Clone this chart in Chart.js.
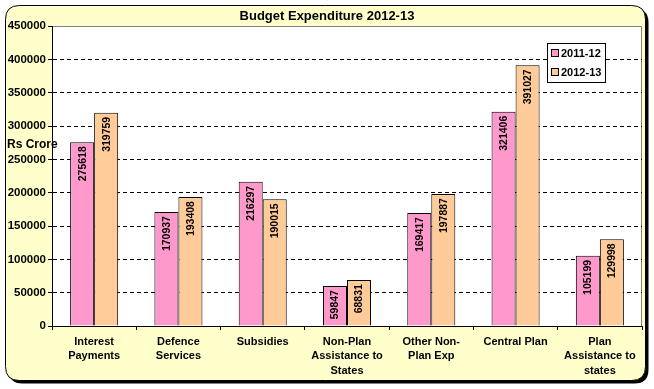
<!DOCTYPE html>
<html>
<head>
<meta charset="utf-8">
<script src="https://cdn.jsdelivr.net/npm/chart.js@4"></script>
<style>
    body { margin: 0; background: #ffffff; }
    #wrap { width: 654px; height: 389px; }
</style>
</head>
<body>
<div id="wrap"><canvas id="grafico" width="654" height="389"></canvas></div>
<script>
// chart data
var categorias = [
    ["Interest", "Payments"],
    ["Defence", "Services"],
    ["Subsidies"],
    ["Non-Plan", "Assistance to", "States"],
    ["Other Non-", "Plan Exp"],
    ["Central Plan"],
    ["Plan", "Assistance to", "states"]
];
var valores2011 = [275618, 170937, 216297, 59847, 169417, 321406, 105199];
var valores2012 = [319759, 193408, 190015, 68831, 197887, 391027, 129998];
var nomesSeries = ["2011-12", "2012-13"];
var titulo = "Budget Expenditure 2012-13";
var tituloEixoY = "Rs Crore";

var fonte = '"Liberation Sans", Arial, sans-serif';

// background box, title, axis label
var fundoPlugin = {
    id: 'fundo',
    beforeDraw: function(chart) {
        var ctx = chart.ctx;
        function caixa(x, y, w, h, r) {
            ctx.beginPath();
            ctx.moveTo(x + r, y);
            ctx.lineTo(x + w - r, y);
            ctx.quadraticCurveTo(x + w, y, x + w, y + r);
            ctx.lineTo(x + w, y + h - r);
            ctx.quadraticCurveTo(x + w, y + h, x + w - r, y + h);
            ctx.lineTo(x + r, y + h);
            ctx.quadraticCurveTo(x, y + h, x, y + h - r);
            ctx.lineTo(x, y + r);
            ctx.quadraticCurveTo(x, y, x + r, y);
            ctx.closePath();
        }
        ctx.save();
        ctx.fillStyle = '#000000';
        caixa(8.5, 8.5, 640, 375, 14);
        ctx.fill();
        ctx.fillStyle = '#FFFFCC';
        ctx.strokeStyle = '#000000';
        ctx.lineWidth = 1;
        caixa(5.5, 5.5, 640, 375, 14);
        ctx.fill();
        ctx.stroke();

        var a = chart.chartArea;
        ctx.fillStyle = '#ffffff';
        ctx.fillRect(a.left, a.top, a.right - a.left, a.bottom - a.top);
        ctx.strokeStyle = '#808080';
        ctx.beginPath();
        ctx.moveTo(a.left, a.top + 0.5);
        ctx.lineTo(a.right - 0.5, a.top + 0.5);
        ctx.lineTo(a.right - 0.5, a.bottom);
        ctx.stroke();

        ctx.fillStyle = '#000000';
        ctx.font = 'bold 13px ' + fonte;
        ctx.textAlign = 'center';
        ctx.textBaseline = 'middle';
        ctx.fillText(titulo, 327, 16);
        ctx.restore();
    },
    afterDraw: function(chart) {
        var ctx = chart.ctx;
        ctx.save();
        ctx.fillStyle = '#000000';
        ctx.font = 'bold 12px ' + fonte;
        ctx.textAlign = 'left';
        ctx.textBaseline = 'middle';
        ctx.fillText(tituloEixoY, 7, 145);

        // legend
        ctx.fillStyle = '#ffffff';
        ctx.fillRect(547.5, 43.5, 58, 39);
        ctx.strokeStyle = '#000000';
        ctx.lineWidth = 1;
        ctx.strokeRect(547.5, 43.5, 58, 39);
        ctx.font = 'bold 11px ' + fonte;
        var ys = [53, 72];
        chart.data.datasets.forEach(function(ds, i) {
            ctx.fillStyle = ds.backgroundColor;
            ctx.fillRect(551.5, ys[i] - 3.5, 7, 7);
            ctx.strokeRect(551.5, ys[i] - 3.5, 7, 7);
            ctx.fillStyle = '#000000';
            ctx.fillText(ds.label, 561, ys[i] + 0.5);
        });
        ctx.restore();
    }
};

// rotated values inside the bars
var rotulosPlugin = {
    id: 'rotulos',
    afterDatasetsDraw: function(chart) {
        var ctx = chart.ctx;
        ctx.save();
        ctx.fillStyle = '#000000';
        ctx.font = 'bold 10.5px ' + fonte;
        ctx.textAlign = 'right';
        ctx.textBaseline = 'middle';
        chart.data.datasets.forEach(function(ds, i) {
            chart.getDatasetMeta(i).data.forEach(function(bar, j) {
                ctx.save();
                ctx.translate(bar.x + 0.5, bar.y + 4);
                ctx.rotate(-Math.PI / 2);
                ctx.fillText(String(ds.data[j]), 0, 0);
                ctx.restore();
            });
        });
        ctx.restore();
    }
};

var grafico = document.getElementById('grafico').getContext('2d');

var meugrafico = new Chart(grafico, {
    type: 'bar',
    data: {
        labels: categorias,
        datasets: [{
            label: nomesSeries[0],
            data: valores2011,
            backgroundColor: '#FF99CC',
            borderColor: '#000000',
            borderWidth: 1
        }, {
            label: nomesSeries[1],
            data: valores2012,
            backgroundColor: '#FFCC99',
            borderColor: '#000000',
            borderWidth: 1
        }]
    },
    options: {
        responsive: false,
        animation: false,
        layout: {
            padding: { left: 5, right: 12, top: 26, bottom: 0 }
        },
        datasets: {
            bar: {
                categoryPercentage: 0.57,
                barPercentage: 1.0
            }
        },
        scales: {
            y: {
                min: 0,
                max: 450000,
                afterFit: function(scale) { scale.width = 47; },
                ticks: {
                    stepSize: 50000,
                    color: '#000000',
                    padding: 2,
                    font: { family: fonte, size: 11.5, weight: 'bold' },
                    callback: function(v) { return String(v); }
                },
                // in v4 border.dash is used for the grid lines
                border: { color: '#000000', width: 1, dash: [4, 3] },
                grid: {
                    color: function(c) {
                        if (c.tick && (c.tick.value === 0 || c.tick.value === 450000)) return 'rgba(0,0,0,0)';
                        return '#000000';
                    },
                    tickColor: '#000000',
                    tickLength: 4,
                    lineWidth: 1
                }
            },
            x: {
                afterFit: function(scale) { scale.height = 63; },
                ticks: {
                    color: '#000000',
                    padding: 4,
                    maxRotation: 0,
                    autoSkip: false,
                    font: { family: fonte, size: 11, weight: 'bold', lineHeight: 1.36 }
                },
                border: { color: '#000000', width: 1 },
                grid: {
                    offset: true,
                    drawOnChartArea: false,
                    color: '#000000',
                    tickLength: 4
                }
            }
        },
        plugins: {
            legend: { display: false },
            title: { display: false },
            tooltip: { enabled: false }
        }
    },
    plugins: [fundoPlugin, rotulosPlugin]
});
</script>
</body>
</html>
